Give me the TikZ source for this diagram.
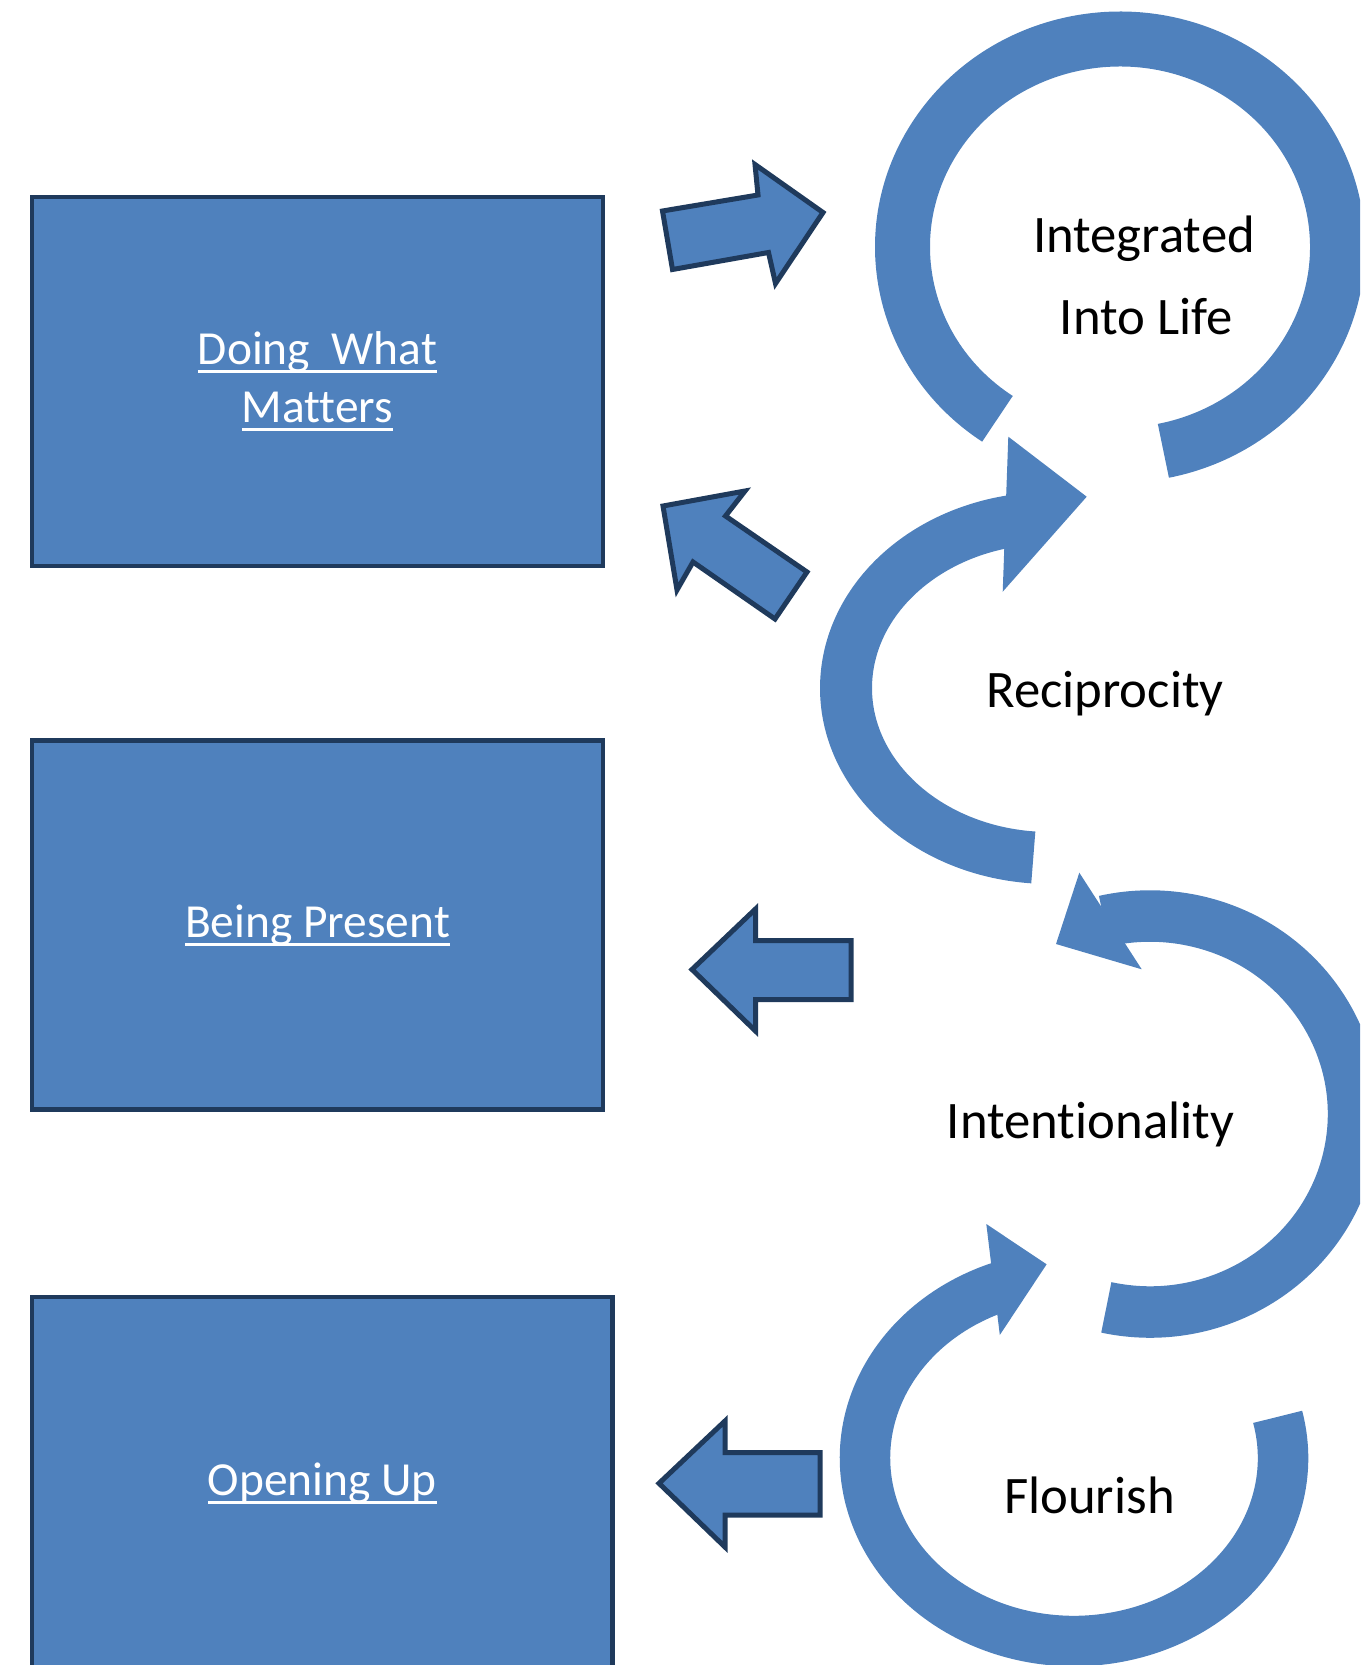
\documentclass[tikz,border=0pt]{standalone}
\usepackage{fontspec}
\setmainfont{Carlito}[Ligatures=NoCommon]
\usepackage{xcolor}
\definecolor{boxblue}{HTML}{4F81BD}
\definecolor{navy}{HTML}{1F3A5C}
\usetikzlibrary{positioning}
\newbox\undlbox
\newcommand{\undl}[1]{\leavevmode\setbox\undlbox\hbox{#1}%
  \rlap{\vrule width\wd\undlbox height -3.2pt depth 4.9pt}\box\undlbox}

\begin{document}
\begin{tikzpicture}[x=0.02cm, y=-0.02cm,
  box/.style={draw=navy, line width=0.09cm, fill=boxblue, inner sep=0pt,
    text=white, align=center, font=\fontsize{27}{33.2}\selectfont},
  blockarr/.style={draw=navy, line width=0.1cm, fill=boxblue, line join=miter},
  ring/.style={draw=boxblue, line width=#1},
  head/.style={fill=boxblue},
  looptext/.style={font=\fontsize{30}{36}\selectfont, anchor=base, inner sep=0pt}]
\useasboundingbox (0,0) rectangle (1360,1665);
\clip (0,0) rectangle (1360,1665);

% left column
\node[box, minimum width=11.42cm, minimum height=7.38cm] (doing) at (317.5,381.5)
  {\undl{Doing\ \ What}\\\undl{Matters}};
\node[box, minimum width=11.42cm, minimum height=7.38cm] (present) at (317.5,925)
  {\undl{Being Present}};
\node[box, minimum width=11.61cm, minimum height=7.46cm] (opening) at (322.3,1483.5)
  {\undl{Opening Up}};

% block arrows
\draw[blockarr] (662.5,211) -- (758,195) -- (755,164.5) -- (823,212.5)
  -- (775.5,283.5) -- (768.5,252.5) -- (672.5,269.5) -- cycle;
\draw[blockarr] (663,506) -- (745,491) -- (725.5,516) -- (807,572)
  -- (775,619) -- (693,562) -- (677,590) -- cycle;
\draw[blockarr] (692,969.5) -- (755.5,909) -- (755.5,940.5) -- (851,940.5)
  -- (851,999.5) -- (755.5,999.5) -- (755.5,1031) -- cycle;
\draw[blockarr] (659,1483.3) -- (725,1421) -- (725,1452.5) -- (820,1452.5)
  -- (820,1515) -- (725,1515) -- (725,1547) -- cycle;

% loops on the right
\coordinate (ctop) at (1120,247);
\coordinate (crec) at (1050,688);
\coordinate (cint) at (1150,1114);
\coordinate (cflo) at (1074,1458);

\draw[ring=1.1cm] (ctop) ++(-235.7:217.5 and 208)
  arc[start angle=-235.7, end angle=78.5, x radius=217.5, y radius=208];

\draw[ring=1.04cm] (crec) ++(-265.3:204 and 170)
  arc[start angle=-265.3, end angle=-101, x radius=204, y radius=170];
\fill[head] (1008.3,436.7) -- (1086.7,496.7) -- (1002.7,591.7) -- cycle;

\draw[ring=1.03cm] (cint) ++(102.4:203.5 and 198)
  arc[start angle=102.4, end angle=-103, x radius=203.5, y radius=198];
\fill[head] (1079.3,872.7) -- (1056,944) -- (1141.7,969.3) -- cycle;

\draw[ring=1.01cm] (cflo) ++(-13:209 and 183)
  arc[start angle=-13, end angle=250, x radius=209, y radius=183];
\fill[head] (986.3,1224) -- (1046.6,1264.3) -- (999.8,1335) -- cycle;

\node[looptext] (integrated) at (1144,253) {Integrated};
\node[looptext] (intolife) at (1146,335) {Into Life};
\node[looptext] (reciprocity) at (1105,707) {Reciprocity};
\node[looptext] (intention) at (1090.5,1138) {Intentionality};
\node[looptext] (flourish) at (1089.5,1513) {Flourish};
\end{tikzpicture}
\end{document}
